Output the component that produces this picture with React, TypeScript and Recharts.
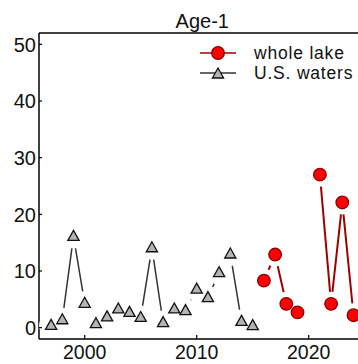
import React from "react";
import { LineChart, Line, XAxis, YAxis, ReferenceLine } from "recharts";

const years = [
  1997, 1998, 1999, 2000, 2001, 2002, 2003, 2004, 2005, 2006, 2007, 2008, 2009, 2010,
  2011, 2012, 2013, 2014, 2015, 2016, 2017, 2018, 2019, 2020, 2021, 2022, 2023, 2024,
];
const usWaters: (number | null)[] = [
  0.4, 1.4, 16.1, 4.3, 0.7, 1.9, 3.3, 2.7, 1.8, 14.1, 0.9, 3.3, 3.0, 6.8,
  5.3, 9.7, 13.0, 1.1, 0.35, null, null, null, null, null, null, null, null, null,
];
const wholeLake: (number | null)[] = [
  null, null, null, null, null, null, null, null, null, null, null, null, null, null,
  null, null, null, null, null, 8.3, 12.9, 4.2, 2.7, null, 27.0, 4.2, 22.1, 2.2,
];
const xTicks = [2000, 2010, 2020];
const yTicks = [0, 10, 20, 30, 40, 50];

const data = years.map((year, i) => ({ year, us: usWaters[i], lake: wholeLake[i] }));

const FONT = "'Liberation Sans', Arial, sans-serif";
const AXIS_X = 39;
const PLOT_BOTTOM = 339;
const RED_FILL = "#ff0000";
const RED_EDGE = "#8b0000";
const RED_LINE = "#a00000";
const GREY_FILL = "#b4b4b4";

// white disc under each marker, so lines stop short of the points
const halo = (props: any) => {
  const { cx, cy, index, value } = props;
  if (value == null || cx == null || cy == null) return <g key={`h${index}`} />;
  return <circle key={`h${index}`} cx={cx} cy={cy} r={12} fill="#fff" />;
};

const circleDot = (props: any) => {
  const { cx, cy, index, value } = props;
  if (value == null || cx == null || cy == null) return <g key={`c${index}`} />;
  return (
    <circle key={`c${index}`} cx={cx} cy={cy} r={6.3} fill={RED_FILL} stroke={RED_EDGE} strokeWidth={1.3} />
  );
};

const triangle = (cx: number, cy: number) =>
  `${cx},${cy - 6} ${cx - 5.6},${cy + 4} ${cx + 5.6},${cy + 4}`;

const triDot = (props: any) => {
  const { cx, cy, index, value } = props;
  if (value == null || cx == null || cy == null) return <g key={`t${index}`} />;
  return (
    <polygon key={`t${index}`} points={triangle(cx, cy)} fill={GREY_FILL} stroke="#111" strokeWidth={1.3} />
  );
};

const YTick = (props: any) => {
  const { y, payload } = props;
  return (
    <g>
      <line x1={AXIS_X} x2={AXIS_X + 3} y1={y} y2={y} stroke="#000" strokeWidth={1.2} />
      <text x={AXIS_X - 3} y={y} dy="0.36em" textAnchor="end" fontSize={20} fontFamily={FONT} fill="#111">
        {payload.value}
      </text>
    </g>
  );
};

const XTick = (props: any) => {
  const { x, payload } = props;
  return (
    <g>
      <line x1={x} x2={x} y1={PLOT_BOTTOM} y2={PLOT_BOTTOM - 4} stroke="#000" strokeWidth={1.2} />
      <text x={x} y={359} textAnchor="middle" fontSize={19.5} fontFamily={FONT} fill="#111">
        {payload.value}
      </text>
    </g>
  );
};

function LegendBox() {
  const row = (label: string, kind: "lake" | "us") => (
    <div style={{ display: "flex", alignItems: "center", height: 20 }}>
      <svg width={36} height={20} style={{ display: "block" }}>
        <line x1={0} x2={36} y1={10} y2={10} stroke={kind === "lake" ? RED_LINE : "#333"} strokeWidth={1.5} />
        {kind === "lake" ? (
          <circle cx={18} cy={10} r={6.3} fill={RED_FILL} stroke={RED_EDGE} strokeWidth={1.3} />
        ) : (
          <polygon points={triangle(18, 11)} fill={GREY_FILL} stroke="#111" strokeWidth={1.3} />
        )}
      </svg>
      <span
        style={{
          display: "block",
          height: 20,
          marginLeft: 18,
          fontSize: 17.5,
          letterSpacing: 0.8,
          lineHeight: "20px",
          fontFamily: FONT,
          color: "#111",
          whiteSpace: "nowrap",
        }}
      >
        {label}
      </span>
    </div>
  );
  return (
    <div style={{ position: "absolute", left: 200, top: 43 }}>
      {row("whole lake", "lake")}
      {row("U.S. waters", "us")}
    </div>
  );
}

export default function App() {
  return (
    <div style={{ position: "fixed", left: 0, top: 0, width: 358, height: 364, overflow: "hidden", background: "#fff" }}>
      <LineChart width={380} height={364} data={data} margin={{ top: 33, right: 14.4, bottom: 0, left: 0 }}>
        <Line dataKey="us" stroke="#333" strokeWidth={1.5} dot={false} activeDot={false} isAnimationActive={false} />
        <Line dataKey="lake" stroke={RED_LINE} strokeWidth={2} dot={false} activeDot={false} isAnimationActive={false} />
        <Line dataKey="us" stroke="none" dot={halo} activeDot={false} isAnimationActive={false} />
        <Line dataKey="lake" stroke="none" dot={halo} activeDot={false} isAnimationActive={false} />
        <Line dataKey="us" stroke="none" dot={triDot} activeDot={false} isAnimationActive={false} />
        <Line dataKey="lake" stroke="none" dot={circleDot} activeDot={false} isAnimationActive={false} />
        <XAxis
          dataKey="year"
          type="number"
          domain={[1995.92, 2025.08]}
          ticks={xTicks}
          allowDataOverflow
          height={25}
          tickLine={false}
          tick={<XTick />}
          axisLine={{ stroke: "#000", strokeWidth: 1.5 }}
        />
        <YAxis
          type="number"
          domain={[-2, 52]}
          ticks={yTicks}
          allowDataOverflow
          width={AXIS_X}
          tickLine={false}
          tick={<YTick />}
          axisLine={{ stroke: "#000", strokeWidth: 1.5 }}
        />
        <ReferenceLine
          y={52}
          stroke="#000"
          strokeWidth={1.5}
          label={{ value: "Age-1", position: "top", offset: 5, fontSize: 20, fontFamily: FONT, fill: "#111" }}
        />
      </LineChart>
      <LegendBox />
    </div>
  );
}
